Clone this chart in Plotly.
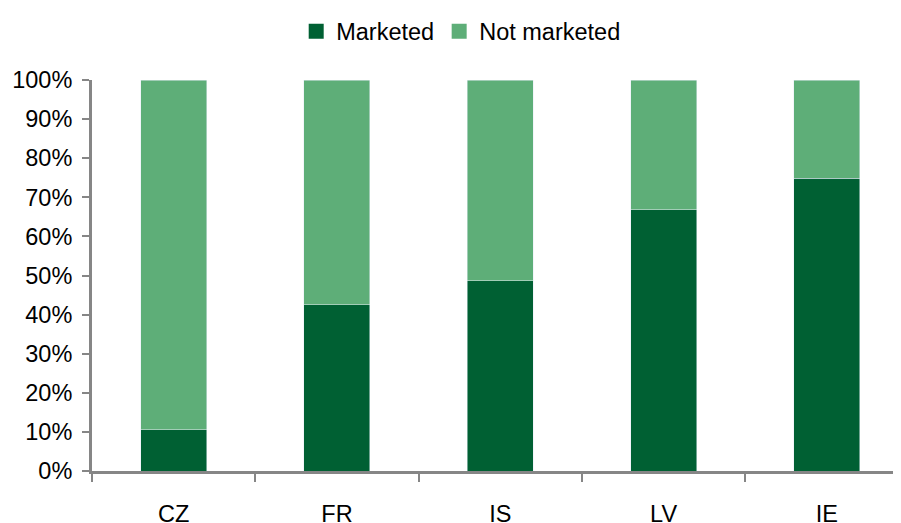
import plotly.graph_objects as go

categories = ["CZ", "FR", "IS", "LV", "IE"]
marketed = [10.5, 42.5, 48.6, 66.8, 74.9]
not_marketed = [100 - v for v in marketed]

DARK = "#006033"
LIGHT = "#5EAE78"
AXIS = "#868686"
FONT = "Liberation Sans, Arial, sans-serif"

fig = go.Figure()
fig.add_trace(go.Bar(x=categories, y=marketed, name="Marketed", marker_color=DARK,
                     showlegend=False, legendgroup="m"))
fig.add_trace(go.Bar(x=categories, y=not_marketed, name="Not marketed", marker_color=LIGHT,
                     showlegend=False, legendgroup="n"))
# legend entries (square swatches)
fig.add_trace(go.Scatter(x=[None], y=[None], mode="markers", name="Marketed", legendgroup="m",
                         marker=dict(symbol="square", size=15, color=DARK)))
fig.add_trace(go.Scatter(x=[None], y=[None], mode="markers", name="Not marketed", legendgroup="n",
                         marker=dict(symbol="square", size=15, color=LIGHT)))

fig.update_layout(
    width=901, height=523,
    barmode="stack", bargap=0.596,
    plot_bgcolor="white", paper_bgcolor="white",
    margin=dict(l=84, r=8, t=72, b=60, autoexpand=False),
    font=dict(family=FONT, size=23.5, color="#000000"),
    legend=dict(orientation="h", xref="container", yref="container",
                x=0.503, xanchor="center", y=0.955, yanchor="middle",
                font=dict(size=23.5), traceorder="normal", itemsizing="trace",
                tracegroupgap=22),
    xaxis=dict(type="category", categoryorder="array", categoryarray=categories,
               range=[-0.5, 4.454], showline=True, linecolor=AXIS, linewidth=3,
               ticks="outside", tickson="boundaries", ticklen=8, tickwidth=2,
               tickcolor=AXIS, showgrid=False, ticklabelstandoff=20, automargin=False),
    yaxis=dict(range=[0, 100], dtick=10, ticksuffix="%", showline=True,
               linecolor=AXIS, linewidth=3, ticks="outside", ticklen=7,
               tickwidth=2, tickcolor=AXIS, showgrid=False, zeroline=False,
               automargin=False, ticklabelstandoff=5),
)

fig.write_html("out.html")
